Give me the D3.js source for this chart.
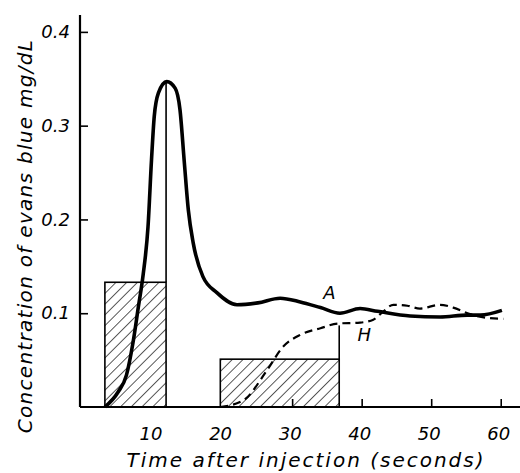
<!DOCTYPE html>
<html><head><meta charset="utf-8">
<script src="https://cdn.jsdelivr.net/npm/d3@7"></script>
<style>
html,body{margin:0;padding:0;background:#fff;}
svg text{font-family:"DejaVu Sans",sans-serif;font-style:italic;fill:#000;}
</style></head>
<body><svg id="c" width="520" height="473"></svg>
<script>
// Curve A (solid)
const timeA = [3.0, 4.9, 6.1, 7.05, 7.8, 8.5, 9.2, 9.7, 10.1, 10.7, 11.9, 13.1, 13.8, 14.4, 15.0, 15.7, 17.1, 19.1, 22.0, 25.0, 28.2, 31.1, 34.0, 36.8, 39.7, 42.2, 46.9, 51.2, 55.1, 57.0, 60.1];
const concA = [0, 0.016, 0.034, 0.069, 0.106, 0.141, 0.192, 0.263, 0.310, 0.335, 0.347, 0.340, 0.317, 0.263, 0.210, 0.175, 0.139, 0.122, 0.109, 0.111, 0.116, 0.112, 0.106, 0.100, 0.105, 0.102, 0.097, 0.096, 0.098, 0.098, 0.103];
// Curve H (dashed)
const timeH = [19.6, 22.9, 26.3, 28.6, 31.1, 34.0, 36.5, 39.7, 41.6, 42.9, 44.5, 46.5, 48.3, 51.2, 53.1, 55.5, 58.0, 60.3];
const concH = [0, 0.007, 0.039, 0.064, 0.077, 0.084, 0.089, 0.090, 0.093, 0.101, 0.109, 0.108, 0.105, 0.109, 0.106, 0.099, 0.095, 0.094];
// Hatched blocks
const barStart = [3.0, 19.6];
const barEnd = [11.8, 36.7];
const barValue = [0.133, 0.051];
const barEdgeTop = [0.347, 0.087];
// Ticks
const xTicks = [10, 20, 30, 40, 50, 60];
const xTickMarks = [30, 40, 50, 60];
const yTicks = [0.1, 0.2, 0.3, 0.4];
const curveLabels = ["A", "H"];
const curveLabelPos = [[35.3, 0.115], [40.3, 0.070]];

const svg = d3.select("#c");
const x = d3.scaleLinear().domain([-0.58, 62.7]).range([80, 520]);
const y = d3.scaleLinear().domain([0, 0.418]).range([407, 15]);

const defs = svg.append("defs");
const pat = defs.append("pattern").attr("id","hatch").attr("patternUnits","userSpaceOnUse")
  .attr("width",7.6).attr("height",7.6).attr("patternTransform","rotate(45)");
pat.append("line").attr("x1",0).attr("y1",0).attr("x2",0).attr("y2",7.6)
  .attr("stroke","#000").attr("stroke-width",1.3);

// bars
const bi = d3.range(barStart.length);
svg.selectAll("rect.bar").data(bi).join("rect").attr("class","bar")
  .attr("x", i=>x(barStart[i])).attr("y", i=>y(barValue[i]))
  .attr("width", i=>x(barEnd[i])-x(barStart[i])).attr("height", i=>y(0)-y(barValue[i]))
  .attr("fill","url(#hatch)").attr("stroke","#000").attr("stroke-width",1.6);
svg.selectAll("line.edge").data(bi).join("line").attr("class","edge")
  .attr("x1", i=>x(barEnd[i])).attr("x2", i=>x(barEnd[i]))
  .attr("y1", i=>y(barValue[i])).attr("y2", i=>y(barEdgeTop[i]))
  .attr("stroke","#000").attr("stroke-width",1.6);

// curves
const line = d3.line().x(d=>x(d[0])).y(d=>y(d[1])).curve(d3.curveMonotoneX);
svg.append("path").datum(timeH.map((t,i)=>[t,concH[i]])).attr("d",line)
  .attr("fill","none").attr("stroke","#000").attr("stroke-width",2.2).attr("stroke-dasharray","8,5");
svg.append("path").datum(timeA.map((t,i)=>[t,concA[i]])).attr("d",line)
  .attr("fill","none").attr("stroke","#000").attr("stroke-width",3.6).attr("stroke-linejoin","round");

// axes
const yAxis = svg.append("g").attr("transform","translate(80,0)")
  .call(d3.axisLeft(y).tickValues(yTicks).tickSizeInner(-8).tickSizeOuter(0).tickPadding(10).tickFormat(d3.format(".1f")));
yAxis.select(".domain").attr("stroke-width",2.2).attr("d",`M0,${y(0.418)}V${y(0)}`);
yAxis.selectAll(".tick line").attr("stroke-width",1.6);
yAxis.selectAll("text").attr("font-size",18).attr("fill","#000");

const xAxis = svg.append("g").attr("transform",`translate(0,${y(0)})`)
  .call(d3.axisBottom(x).tickValues(xTicks).tickSize(0).tickPadding(20));
xAxis.select(".domain").attr("stroke-width",2.2).attr("d",`M80,0H520`);
xAxis.selectAll("text").attr("font-size",18).attr("fill","#000").attr("dx",-3);
svg.append("g").selectAll("line").data(xTickMarks).join("line")
  .attr("x1",d=>x(d)).attr("x2",d=>x(d)).attr("y1",y(0)).attr("y2",y(0)-8)
  .attr("stroke","#000").attr("stroke-width",1.6);

// curve labels
svg.selectAll("text.cl").data(curveLabels).join("text").attr("class","cl")
  .attr("x",(d,i)=>x(curveLabelPos[i][0])).attr("y",(d,i)=>y(curveLabelPos[i][1]))
  .attr("text-anchor","middle").attr("font-size",18).text(d=>d);

// axis titles
svg.append("text").attr("x",306).attr("y",467).attr("text-anchor","middle")
  .attr("font-size",20).attr("letter-spacing",2).text("Time after injection (seconds)");
svg.append("text").attr("transform","translate(32,236) rotate(-90)").attr("text-anchor","middle")
  .attr("font-size",20).attr("letter-spacing",1.3).text("Concentration of evans blue mg/dL");
</script></body></html>
